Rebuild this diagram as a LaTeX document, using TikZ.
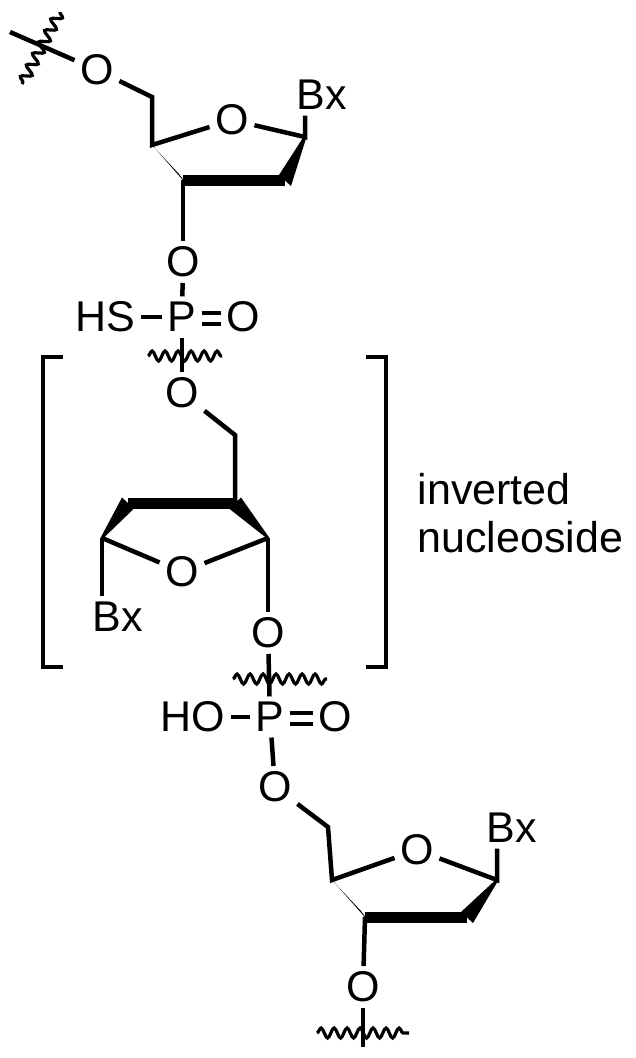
\documentclass[tikz,border=0pt]{standalone}
\usepackage{fontspec}
\setmainfont{Liberation Sans}
\usetikzlibrary{decorations.pathmorphing,calc}
\begin{document}
\begin{tikzpicture}[x=1pt,y=-1pt,line width=4.5pt,
  atom/.style={inner sep=3.5pt,font=\fontsize{43}{48}\selectfont},
  wavy/.style={line width=3.2pt,decorate,decoration={snake,segment length=13pt,amplitude=5pt}},
  wedge/.style={fill=black,draw=none},
  boldb/.style={line width=11pt}]
\useasboundingbox (0,0) rectangle (635,1058);
% ---------- top nucleoside ----------
\coordinate (t0) at (10,32);
\node[atom] (O1) at (97,70) {O};
\coordinate (c5a) at (152,97);
\coordinate (c4a) at (152,145);
\node[atom] (O4a) at (232,120) {O};
\coordinate (c1a) at (305,137);
\coordinate (c2a) at (285,180);
\coordinate (c3a) at (183,180);
\node[atom] (Bxa) at (322,95) {Bx};
\draw (t0) -- (O1);
\draw[wavy] (60,12) -- (22,84);
\draw (O1) -- (c5a) -- (c4a) -- (O4a) -- (c1a) -- (Bxa.south west -| c1a);
\fill[wedge] ($(c4a)+(-1.5,-1.5)$) -- ($(c4a)+(1.5,1.5)$) -- ($(c3a)+(5,6)$) -- ($(c3a)+(-4,-6)$) -- cycle;
\draw[boldb] (c3a) -- (c2a);
\fill[wedge] ($(c1a)+(-1.5,0)$) -- ($(c1a)+(1.5,0)$) -- ($(c2a)+(6,6)$) -- ($(c2a)+(-6,-5)$) -- cycle;
\node[atom] (O3a) at (183,262) {O};
\node[atom] (P1) at (182,317) {P};
\node[atom] (HS) at (105,317) {HS};
\node[atom] (OP1) at (243,317) {O};
\draw (c3a) -- (O3a);
\draw (O3a) -- (P1);
\draw (HS) -- (P1);
\draw ([yshift=-7pt]P1.east) -- ([yshift=-7pt]OP1.west);
\draw ([yshift=4pt]P1.east) -- ([yshift=4pt]OP1.west);
% ---------- inverted nucleoside ----------
\node[atom] (O5b) at (182,393) {O};
\draw (P1) -- (O5b);
\draw[wavy] (148,356) -- (222,356);
\coordinate (c5b) at (235,435);
\coordinate (c4b) at (235,503);
\coordinate (c3b) at (128,503);
\coordinate (cl) at (102,538);
\coordinate (cr) at (268,538);
\node[atom] (O4b) at (182,572) {O};
\node[atom] (Bxb) at (118,617) {Bx};
\node[atom] (O3b) at (268,633) {O};
\draw (O5b) -- (c5b) -- (c4b);
\draw[boldb] (c3b) -- (c4b);
\fill[wedge] ($(cl)+(-1.5,0)$) -- ($(cl)+(1.5,0)$) -- ($(c3b)+(6,5.5)$) -- ($(c3b)+(-6,-5.5)$) -- cycle;
\fill[wedge] ($(cr)+(-1.5,0)$) -- ($(cr)+(1.5,0)$) -- ($(c4b)+(6,-5.5)$) -- ($(c4b)+(-6,5.5)$) -- cycle;
\draw (cl) -- (O4b) -- (cr);
\draw (cl) -- (Bxb.north west -| cl);
\draw (cr) -- (O3b);
\draw (63,357) -- (43,357) -- (43,667) -- (63,667);
\draw (366,357) -- (386,357) -- (386,667) -- (366,667);
\node[anchor=west,font=\fontsize{43}{48}\selectfont,align=left] (lab) at (412,513) {inverted\\nucleoside};
% ---------- phosphate ----------
\node[atom] (P2) at (270,717) {P};
\node[atom] (HO) at (193,717) {HO};
\node[atom] (OP2) at (335,717) {O};
\draw (O3b) -- (P2);
\draw[wavy] (233,679) -- (327,679);
\draw (HO) -- (P2);
\draw ([yshift=-7pt]P2.east) -- ([yshift=-7pt]OP2.west);
\draw ([yshift=4pt]P2.east) -- ([yshift=4pt]OP2.west);
% ---------- bottom nucleoside ----------
\node[atom] (O5c) at (275,787) {O};
\coordinate (c5c) at (328,827);
\coordinate (c4c) at (332,880);
\node[atom] (O4c) at (417,850) {O};
\coordinate (c1c) at (497,880);
\node[atom] (Bxc) at (512,828) {Bx};
\coordinate (c2c) at (467,917);
\coordinate (c3c) at (365,917);
\node[atom] (O3c) at (363,987) {O};
\draw (P2) -- (O5c);
\draw (O5c) -- (c5c) -- (c4c) -- (O4c) -- (c1c) -- (Bxc.south west -| c1c);
\fill[wedge] ($(c4c)+(-1.5,-1.5)$) -- ($(c4c)+(1.5,1.5)$) -- ($(c3c)+(5,6)$) -- ($(c3c)+(-4,-6)$) -- cycle;
\draw[boldb] (c3c) -- (c2c);
\fill[wedge] ($(c1c)+(-1.5,0)$) -- ($(c1c)+(1.5,0)$) -- ($(c2c)+(6,6)$) -- ($(c2c)+(-6,-5)$) -- cycle;
\draw (c3c) -- (O3c);
\coordinate (end) at (363,1047);
\draw (O3c) -- (end);
\draw[wavy] (317,1033) -- (409,1033);
\end{tikzpicture}
\end{document}
